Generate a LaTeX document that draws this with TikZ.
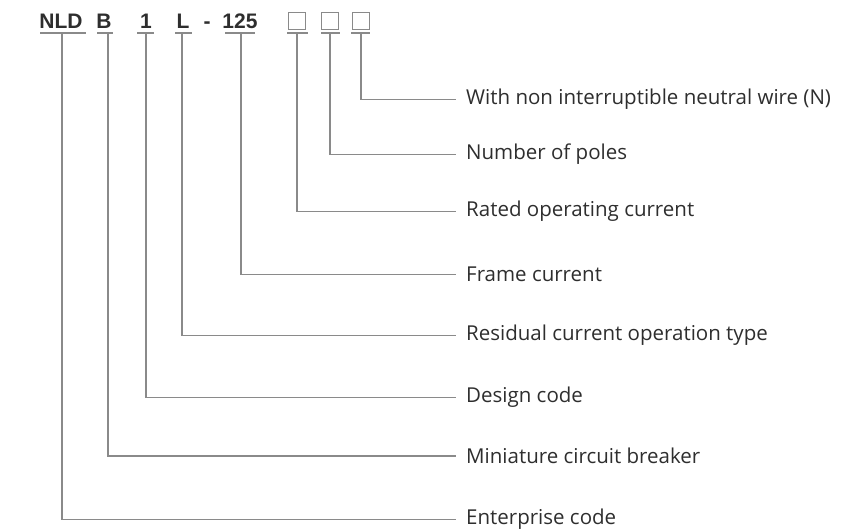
\documentclass[tikz,border=0pt]{standalone}
\usepackage{fontspec}
\setmainfont{Open Sans}
\newfontfamily\codefont{Liberation Sans}
\definecolor{linegray}{HTML}{8A8A8A}
\definecolor{txtgray}{HTML}{2E2E2E}
\begin{document}
\begin{tikzpicture}[x=1pt,y=-1pt,
  conn/.style={draw=linegray,line width=1.2pt},
  codechar/.style={inner sep=0pt,anchor=base,text=txtgray,font=\codefont\bfseries\fontsize{21}{25}\selectfont},
  lbl/.style={inner sep=0pt,anchor=mid west,text=txtgray,font=\fontsize{20.5}{24}\selectfont},
  slot/.style={draw=linegray,line width=1.2pt,minimum width=17pt,minimum height=17pt,inner sep=0pt}]
\useasboundingbox (0,0) rectangle (862,531);
% code characters
\node[codechar] (nld) at (61,28) {NLD};
\node[codechar] (b) at (104,28) {B};
\node[codechar] (one) at (146,28) {1};
\node[codechar] (l) at (183,28) {L};
\node[codechar] (dash) at (207,28) {-};
\node[codechar] (num) at (240,28) {125};
\node[slot] (s1) at (297,21) {};
\node[slot] (s2) at (330,21) {};
\node[slot] (s3) at (361,21) {};
% underlines
\draw[conn] (40,33) -- (86,33);
\draw[conn] (97,33) -- (113,33);
\draw[conn] (137,33) -- (154,33);
\draw[conn] (175,33) -- (192,33);
\draw[conn] (225,33) -- (255,33);
\draw[conn] (287,33) -- (308,33);
\draw[conn] (321,33) -- (340,33);
\draw[conn] (351,33) -- (370,33);
% labels
\node[lbl] (t1) at (466,102) {With non interruptible neutral wire (N)};
\node[lbl] (t2) at (466,157) {Number of poles};
\node[lbl] (t3) at (466,214) {Rated operating current};
\node[lbl] (t4) at (466,279) {Frame current};
\node[lbl] (t5) at (466,338) {Residual current operation type};
\node[lbl] (t6) at (466,400) {Design code};
\node[lbl] (t7) at (466,461) {Miniature circuit breaker};
\node[lbl] (t8) at (466,522) {Enterprise code};
% connectors
\coordinate (c1) at (361,33);
\coordinate (c2) at (330,33);
\coordinate (c3) at (297,33);
\coordinate (c4) at (241,33);
\coordinate (c5) at (182,33);
\coordinate (c6) at (146,33);
\coordinate (c7) at (108,33);
\coordinate (c8) at (62,33);
\draw[conn] (c1) |- ([xshift=-10pt]t1.west);
\draw[conn] (c2) |- ([xshift=-10pt]t2.west);
\draw[conn] (c3) |- ([xshift=-10pt]t3.west);
\draw[conn] (c4) |- ([xshift=-10pt]t4.west);
\draw[conn] (c5) |- ([xshift=-10pt]t5.west);
\draw[conn] (c6) |- ([xshift=-10pt]t6.west);
\draw[conn] (c7) |- ([xshift=-10pt]t7.west);
\draw[conn] (c8) |- ([xshift=-10pt]t8.west);
\end{tikzpicture}
\end{document}
